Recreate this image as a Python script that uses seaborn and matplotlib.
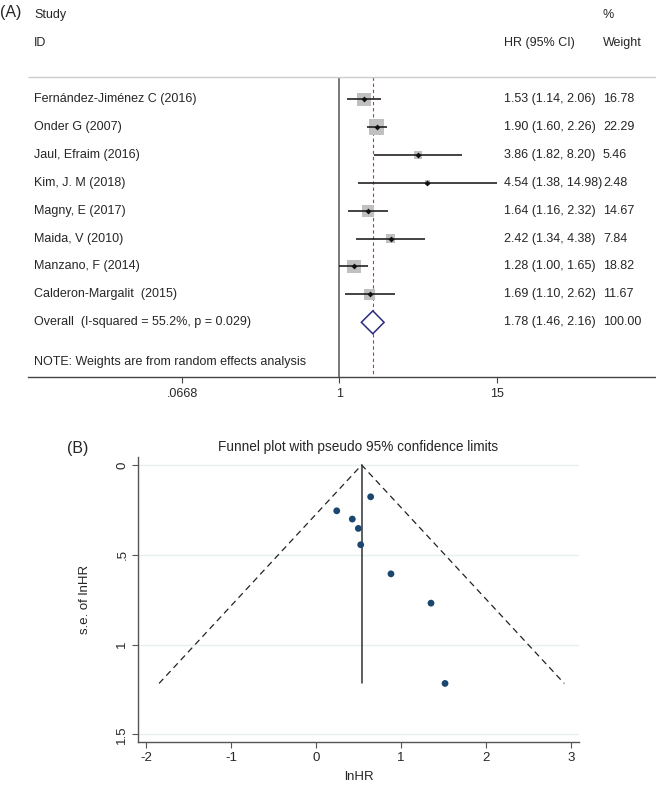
import numpy as np
import pandas as pd
import seaborn as sns
import matplotlib.pyplot as plt
from matplotlib import transforms
from matplotlib.ticker import NullLocator

# Settings
sns.set_theme(style="white")
plt.rcParams['font.family'] = ['Liberation Sans', 'DejaVu Sans']
plt.rcParams['font.size'] = 9
plt.rcParams['axes.unicode_minus'] = False

# Forest plot data
studies = ["Fernández-Jiménez C (2016)", "Onder G (2007)", "Jaul, Efraim (2016)",
           "Kim, J. M (2018)", "Magny, E (2017)", "Maida, V (2010)",
           "Manzano, F (2014)", "Calderon-Margalit  (2015)"]
hr = [1.53, 1.90, 3.86, 4.54, 1.64, 2.42, 1.28, 1.69]
hr_lo = [1.14, 1.60, 1.82, 1.38, 1.16, 1.34, 1.00, 1.10]
hr_hi = [2.06, 2.26, 8.20, 14.98, 2.32, 4.38, 1.65, 2.62]
weight = [16.78, 22.29, 5.46, 2.48, 14.67, 7.84, 18.82, 11.67]
overall_label = "Overall  (I-squared = 55.2%, p = 0.029)"
overall_hr, overall_lo, overall_hi = 1.78, 1.46, 2.16
overall_weight = 100.00
forest_ticks = [0.0668, 1, 15]
forest_ticklabels = [".0668", "1", "15"]

# Funnel plot data
lnhr = [0.643, 0.244, 0.427, 0.498, 0.526, 0.882, 1.353, 1.518]
se_lnhr = [0.177, 0.255, 0.301, 0.353, 0.444, 0.606, 0.769, 1.216]
pooled_lnhr = 0.537
funnel_se_max = 1.216

W, H = 656, 785
fig = plt.figure(figsize=(W / 100, H / 100), dpi=100)

# ---------------- (A) forest plot ----------------
ax = fig.add_axes([28 / W, 1 - 377 / H, 628 / W, 377 / H])
ax.set_xscale('log')
ax.set_xlim(0.00472, 232.3)
ax.set_ylim(9.96, -3.55)
rows = np.arange(len(studies))
ov_row = len(studies)

ax.vlines(1, -0.79, 9.96, color="#555555", lw=1.1)
ax.vlines(overall_hr, -0.79, 9.96, color="#c0392b", lw=0.8, linestyles=(0, (3, 2.5)))
ax.hlines(-0.79, 0.00472, 232.3, color="#cccccc", lw=1.0)

ax.scatter(hr, rows, s=np.array(weight) * 5.3, marker='s', color="#c0c0c0", zorder=2, lw=0)
ax.hlines(rows, hr_lo, hr_hi, color="#222222", lw=1.2, zorder=3)
ax.scatter(hr, rows, s=9, marker='D', color="#111111", zorder=4, lw=0)

h = 0.41
ax.fill([overall_lo, overall_hr, overall_hi, overall_hr],
        [ov_row, ov_row - h, ov_row, ov_row + h],
        facecolor="white", edgecolor="#2b2b80", lw=1.1, zorder=4)

tr = transforms.blended_transform_factory(ax.transAxes, ax.transData)
ax.text(0.0096, -3.0, "Study", transform=tr, va='center')
ax.text(0.0096, -2.0, "ID", transform=tr, va='center')
ax.text(0.758, -2.0, "HR (95% CI)", transform=tr, va='center')
ax.text(0.9156, -3.0, "%", transform=tr, va='center')
ax.text(0.9156, -2.0, "Weight", transform=tr, va='center')
for i, name in enumerate(studies):
    ax.text(0.0096, i, name, transform=tr, va='center')
    ax.text(0.758, i, f"{hr[i]:.2f} ({hr_lo[i]:.2f}, {hr_hi[i]:.2f})", transform=tr, va='center')
    ax.text(0.9156, i, f"{weight[i]:.2f}", transform=tr, va='center')
ax.text(0.0096, ov_row, overall_label, transform=tr, va='center')
ax.text(0.758, ov_row, f"{overall_hr:.2f} ({overall_lo:.2f}, {overall_hi:.2f})", transform=tr, va='center')
ax.text(0.9156, ov_row, f"{overall_weight:.2f}", transform=tr, va='center')
ax.text(0.0096, 9.43, "NOTE: Weights are from random effects analysis", transform=tr, va='center')

for s in ["top", "left", "right"]:
    ax.spines[s].set_visible(False)
ax.spines["bottom"].set_color("#444444")
ax.spines["bottom"].set_linewidth(1.0)
ax.set_xticks(forest_ticks)
ax.set_xticklabels(forest_ticklabels)
ax.xaxis.set_minor_locator(NullLocator())
ax.tick_params(axis='x', bottom=True, length=4, width=0.8, color="#444444", pad=4, labelsize=9)
ax.set_yticks([])

fig.text(0, 1 - 12 / H, "(A)", va='center', fontsize=11.5)

# ---------------- (B) funnel plot ----------------
ax2 = fig.add_axes([138 / W, 1 - 742 / H, 441 / W, 285 / H])
ax2.set_xlim(-2.094, 3.094)
ax2.set_ylim(1.542, -0.0445)
ax2.set_yticks([0, 0.5, 1, 1.5])
ax2.set_yticklabels(["0", ".5", "1", "1.5"], rotation=90, va='center')
ax2.set_xticks([-2, -1, 0, 1, 2, 3])
ax2.yaxis.grid(True, color="#e6f0f2", lw=1.0)
ax2.xaxis.grid(False)
ax2.set_axisbelow(True)

ax2.plot([pooled_lnhr - 1.96 * funnel_se_max, pooled_lnhr, pooled_lnhr + 1.96 * funnel_se_max],
         [funnel_se_max, 0, funnel_se_max], color="#222222", lw=0.9, ls=(0, (5, 3.5)))
ax2.plot([pooled_lnhr, pooled_lnhr], [0, funnel_se_max], color="#333333", lw=1.1)
sns.scatterplot(x=lnhr, y=se_lnhr, ax=ax2, color="#1a476f", s=24, edgecolor='none', zorder=5)

for s in ["top", "right"]:
    ax2.spines[s].set_visible(False)
for s in ["left", "bottom"]:
    ax2.spines[s].set_color("#555555")
    ax2.spines[s].set_linewidth(1.0)
ax2.tick_params(left=True, bottom=True, length=4, width=0.8, color="#555555", labelsize=9.5, pad=3)

ax2.set_title("Funnel plot with pseudo 95% confidence limits", fontsize=9.8, pad=4)
ax2.set_xlabel("lnHR", fontsize=9.5)
ax2.set_ylabel("s.e. of lnHR", fontsize=9.5)
ax2.xaxis.set_label_coords(0.5, -0.102)
ax2.yaxis.set_label_coords(-0.107, 0.5)

fig.text(67 / W, 1 - 449 / H, "(B)", va='center', fontsize=11.5)

fig.savefig("out.png", dpi=100)
